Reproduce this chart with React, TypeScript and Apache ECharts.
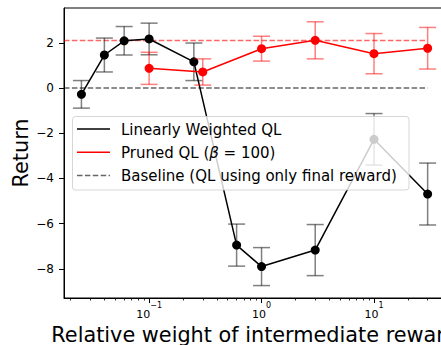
import React, { useEffect, useRef } from "react";
import * as echarts from "echarts";

// ---- data ----
const weightsLinear = [0.025, 0.04, 0.06, 0.1, 0.25, 0.6, 1, 3, 10, 30];
const returnLinear = [-0.28, 1.46, 2.09, 2.17, 1.16, -6.95, -7.9, -7.17, -2.27, -4.69];
const errLinear = [0.61, 0.75, 0.63, 0.7, 0.83, 0.93, 0.84, 1.13, 1.14, 1.37];

const weightsPruned = [0.1, 0.3, 1, 3, 10, 30];
const returnPruned = [0.87, 0.71, 1.74, 2.11, 1.52, 1.76];
const errPruned = [0.71, 0.58, 0.55, 0.82, 0.89, 0.92];

const baselineValue = 0;
const prunedRefValue = 2.1;
const dashedSpan = [0.0175, 30];

const xMin = 0.0175;
const xMax = 42.8;
const yMin = -9.29;
const yMax = 3.54;

const xMajorTicks = [0.1, 1, 10];
const xMinorTicks = [
  0.02, 0.03, 0.04, 0.05, 0.06, 0.07, 0.08, 0.09,
  0.2, 0.3, 0.4, 0.5, 0.6, 0.7, 0.8, 0.9,
  2, 3, 4, 5, 6, 7, 8, 9,
  20, 30, 40,
];
const yTicks = [-8, -6, -4, -2, 0, 2];
const xExponents: Record<string, string> = { "0.1": "−1", "1": "0", "10": "1" };

const FONT = "DejaVu Sans";

function errorBars(xs: number[], ys: number[], errs: number[], color: string, z: number) {
  return {
    type: "custom",
    z,
    silent: true,
    xAxisIndex: 0,
    yAxisIndex: 0,
    data: xs.map((x, i) => [x, ys[i] - errs[i], ys[i] + errs[i]]),
    encode: { x: 0, y: [1, 2] },
    renderItem: (_params: any, api: any) => {
      const x = api.value(0);
      const lo = api.coord([x, api.value(1)]);
      const hi = api.coord([x, api.value(2)]);
      const w = 8.5;
      const style = { stroke: color, lineWidth: 1.5 };
      return {
        type: "group",
        children: [
          { type: "line", shape: { x1: lo[0], y1: lo[1], x2: hi[0], y2: hi[1] }, style },
          { type: "line", shape: { x1: lo[0] - w, y1: lo[1], x2: lo[0] + w, y2: lo[1] }, style },
          { type: "line", shape: { x1: hi[0] - w, y1: hi[1], x2: hi[0] + w, y2: hi[1] }, style },
        ],
      };
    },
  };
}

export default function App() {
  const ref = useRef<HTMLDivElement>(null);
  useEffect(() => {
    if (!ref.current) return;
    const chart = echarts.init(ref.current, undefined, { renderer: "svg" });
    const legendX = 72.5;
    const legendY = 116.5;
    chart.setOption({
      animation: false,
      backgroundColor: "#fff",
      textStyle: { fontFamily: FONT },
      grid: {
        left: 64,
        top: 8,
        width: 381,
        height: 290,
        show: true,
        borderColor: "#000",
        borderWidth: 1,
        backgroundColor: "transparent",
        containLabel: false,
        outerBoundsMode: "none",
      },
      xAxis: [
        {
          type: "log",
          logBase: 10,
          min: xMin,
          max: xMax,
          position: "bottom",
          name: "Relative weight of intermediate reward",
          nameLocation: "middle",
          nameGap: 26,
          nameMoveOverlap: false,
          nameTextStyle: { fontSize: 20.8, color: "#000", fontFamily: FONT },
          axisLine: { show: true, onZero: false, lineStyle: { color: "#000", width: 1 } },
          axisTick: { show: true, length: 5, customValues: xMajorTicks, lineStyle: { color: "#000", width: 1 } },
          axisLabel: {
            show: true,
            customValues: xMajorTicks,
            margin: 3.5,
            formatter: (v: number) => `{b|10}{s|${xExponents[String(v)] ?? ""}}`,
            rich: {
              b: { fontSize: 11, color: "#000", fontFamily: FONT, lineHeight: 18, verticalAlign: "bottom" },
              s: { fontSize: 8, color: "#000", fontFamily: FONT, lineHeight: 9, verticalAlign: "top" },
            },
          },
          splitLine: { show: false },
          minorTick: { show: false },
        },
        {
          type: "log",
          logBase: 10,
          min: xMin,
          max: xMax,
          position: "bottom",
          gridIndex: 0,
          axisLine: { show: false, onZero: false },
          axisTick: { show: true, length: 2.5, customValues: xMinorTicks, lineStyle: { color: "#000", width: 0.8 } },
          axisLabel: { show: false },
          splitLine: { show: false },
        },
      ],
      yAxis: {
        type: "value",
        min: yMin,
        max: yMax,
        name: "Return",
        nameLocation: "middle",
        nameRotate: 90,
        nameGap: 33,
        nameMoveOverlap: false,
        nameTextStyle: { fontSize: 20.8, color: "#000", fontFamily: FONT },
        axisLine: { show: true, onZero: false, lineStyle: { color: "#000", width: 1 } },
        axisTick: { show: true, length: 5, customValues: yTicks, lineStyle: { color: "#000", width: 1 } },
        axisLabel: {
          customValues: yTicks,
          margin: 10,
          fontSize: 12,
          color: "#000",
          fontFamily: FONT,
          formatter: (v: number) => String(v).replace("-", "−"),
        },
        splitLine: { show: false },
      },
      series: [
        {
          type: "line",
          name: "Baseline (QL using only final reward)",
          z: 1,
          silent: true,
          symbol: "none",
          data: dashedSpan.map((x) => [x, baselineValue]),
          lineStyle: { color: "rgba(0,0,0,0.6)", width: 1.5, type: [5.5, 2.4] },
        },
        {
          type: "line",
          name: "Pruned reference",
          z: 1,
          silent: true,
          symbol: "none",
          data: dashedSpan.map((x) => [x, prunedRefValue]),
          lineStyle: { color: "rgba(255,0,0,0.6)", width: 1.5, type: [5.5, 2.4] },
        },
        errorBars(weightsLinear, returnLinear, errLinear, "rgba(0,0,0,0.5)", 2),
        {
          type: "line",
          name: "Linearly Weighted QL",
          z: 3,
          silent: true,
          symbol: "circle",
          symbolSize: 9,
          data: weightsLinear.map((x, i) => [x, returnLinear[i]]),
          lineStyle: { color: "#000", width: 1.5 },
          itemStyle: { color: "#000" },
        },
        errorBars(weightsPruned, returnPruned, errPruned, "rgba(255,0,0,0.5)", 4),
        {
          type: "line",
          name: "Pruned QL (β = 100)",
          z: 5,
          silent: true,
          symbol: "circle",
          symbolSize: 9,
          data: weightsPruned.map((x, i) => [x, returnPruned[i]]),
          lineStyle: { color: "#ff0000", width: 1.5 },
          itemStyle: { color: "#ff0000" },
        },
      ],
      graphic: [
        {
          type: "group",
          z: 100,
          children: [
            {
              type: "rect",
              z: 100,
              shape: { x: legendX, y: legendY, width: 336.5, height: 73.5, r: 3 },
              style: { fill: "rgba(255,255,255,0.8)", stroke: "rgba(204,204,204,0.8)", lineWidth: 1 },
            },
            {
              type: "line",
              z: 101,
              shape: { x1: 77, y1: 129, x2: 110, y2: 129 },
              style: { stroke: "#000", lineWidth: 1.5 },
            },
            {
              type: "text",
              z: 101,
              x: 121,
              y: 129.5,
              style: { text: "Linearly Weighted QL", fontSize: 15, fontFamily: FONT, fill: "#000", verticalAlign: "middle" },
            },
            {
              type: "line",
              z: 101,
              shape: { x1: 77, y1: 152.3, x2: 110, y2: 152.3 },
              style: { stroke: "#ff0000", lineWidth: 1.5 },
            },
            {
              type: "text",
              z: 101,
              x: 121,
              y: 152.8,
              style: {
                text: "{n|Pruned QL (}{i|β}{n| = 100)}",
                verticalAlign: "middle",
                rich: {
                  n: { fontSize: 15, fontFamily: FONT, fill: "#000" },
                  i: { fontSize: 15, fontFamily: FONT, fill: "#000", fontStyle: "italic" },
                },
              },
            },
            {
              type: "line",
              z: 101,
              shape: { x1: 77, y1: 175.5, x2: 110, y2: 175.5 },
              style: { stroke: "rgba(0,0,0,0.6)", lineWidth: 1.5, lineDash: [5.5, 2.4] },
            },
            {
              type: "text",
              z: 101,
              x: 121,
              y: 176,
              style: {
                text: "Baseline (QL using only final reward)",
                fontSize: 15,
                fontFamily: FONT,
                fill: "#000",
                verticalAlign: "middle",
              },
            },
          ],
        },
      ],
    });
    return () => chart.dispose();
  }, []);
  return (
    <div
      ref={ref}
      style={{ position: "fixed", left: 0, top: 0, width: 500, height: 345, overflow: "hidden" }}
    />
  );
}
